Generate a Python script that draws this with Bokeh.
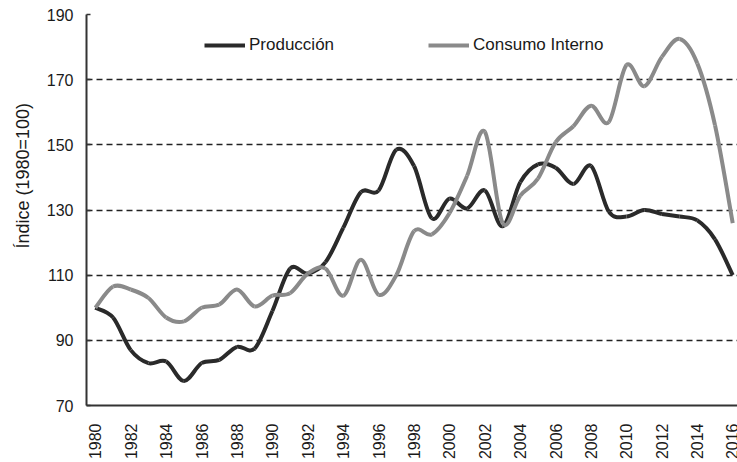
import math
from bokeh.plotting import figure
from bokeh.models import Range1d, FixedTicker, Legend, LegendItem, Title, ColumnDataSource
from bokeh.embed import file_html
from bokeh.resources import INLINE

years = list(range(1980, 2017))
produccion = [100, 97, 87, 83, 83.5, 77.5, 83, 84, 88, 87.5, 99, 112, 110.5, 114, 124.5, 135.5,
              136, 148.5, 143.5, 127.5, 133.5, 130.5, 136, 125, 138.5, 144, 143, 138, 143.5,
              129.5, 128, 130, 128.8, 128, 126.8, 121, 110]
consumo = [100, 106.5, 105.6, 103, 97, 95.8, 100, 101, 105.6, 100.4, 103.7, 104.5, 110.5, 112,
           103.7, 114.7, 104, 110, 123.5, 122.5, 129, 140.5, 154, 126, 134.4, 139.6, 150.8,
           155.7, 162, 157, 174.5, 168, 177, 182.5, 175, 156, 126]
series_names = ["Producción", "Consumo Interno"]
y_ticks = [70, 90, 110, 130, 150, 170, 190]
x_ticks = years[::2]
y_title = "Índice (1980=100)"

DARK = "#2a2a2a"
GRAY = "#8a8a8a"
FONT = "Liberation Sans"


def bezier_source(xs, ys):
    n = len(xs)
    d = dict(x0=[], y0=[], x1=[], y1=[], cx0=[], cy0=[], cx1=[], cy1=[])
    for i in range(n - 1):
        i0 = max(i - 1, 0)
        i3 = min(i + 2, n - 1)
        x0, y0 = xs[i0], ys[i0]
        x1, y1 = xs[i], ys[i]
        x2, y2 = xs[i + 1], ys[i + 1]
        x3, y3 = xs[i3], ys[i3]
        d["x0"].append(x1); d["y0"].append(y1)
        d["x1"].append(x2); d["y1"].append(y2)
        d["cx0"].append(x1 + (x2 - x0) / 6.0); d["cy0"].append(y1 + (y2 - y0) / 6.0)
        d["cx1"].append(x2 - (x3 - x1) / 6.0); d["cy1"].append(y2 - (y3 - y1) / 6.0)
    return ColumnDataSource(d)


p = figure(width=737, height=462, x_range=Range1d(1979.5, 2016.27), y_range=Range1d(70, 190),
           output_backend="svg", toolbar_location=None,
           min_border_left=86, min_border_right=0, min_border_top=14, min_border_bottom=53)
p.outline_line_color = None
p.background_fill_color = "white"
p.border_fill_color = "white"

# grid
p.xgrid.grid_line_color = None
p.ygrid.ticker = FixedTicker(ticks=y_ticks[1:])
p.ygrid.grid_line_color = "#222222"
p.ygrid.grid_line_dash = "6 4"
p.ygrid.grid_line_width = 1.4

# axes
p.xaxis.ticker = FixedTicker(ticks=x_ticks)
p.yaxis.ticker = FixedTicker(ticks=y_ticks)
for ax in (p.xaxis, p.yaxis):
    ax.axis_line_color = "#333333"
    ax.axis_line_width = 2
    ax.major_label_text_font = FONT
    ax.major_label_text_font_size = "16px"
    ax.major_label_text_color = "#1a1a1a"
    ax.minor_tick_line_color = None
p.xaxis.major_tick_line_color = None
p.xaxis.major_label_orientation = math.pi / 2
p.xaxis.major_label_standoff = 12
p.yaxis.major_tick_in = 4
p.yaxis.major_tick_out = 0
p.yaxis.major_tick_line_color = "#333333"
p.yaxis.major_tick_line_width = 1.5
p.yaxis.major_label_standoff = 13

r1 = p.bezier(source=bezier_source(years, produccion), x0="x0", y0="y0", x1="x1", y1="y1",
              cx0="cx0", cy0="cy0", cx1="cx1", cy1="cy1", line_color=DARK, line_width=4)
r2 = p.bezier(source=bezier_source(years, consumo), x0="x0", y0="y0", x1="x1", y1="y1",
              cx0="cx0", cy0="cy0", cx1="cx1", cy1="cy1", line_color=GRAY, line_width=4)

for name, rend, lx in ((series_names[0], r1, 118), (series_names[1], r2, 342)):
    leg = Legend(items=[LegendItem(label=name, renderers=[rend])], location=(lx, 350),
                 orientation="horizontal", border_line_color=None, background_fill_alpha=0,
                 padding=0, margin=0, glyph_width=41, glyph_height=20, label_height=20,
                 label_standoff=4, label_text_font=FONT, label_text_font_size="17px",
                 label_text_color="#1a1a1a")
    p.add_layout(leg)

p.add_layout(Title(text=y_title, align="left", offset=157, vertical_align="middle",
                   standoff=20, text_font=FONT, text_font_size="18px",
                   text_font_style="normal", text_color="#1a1a1a"), "left")

open("out.html", "w").write(file_html(p, INLINE))
